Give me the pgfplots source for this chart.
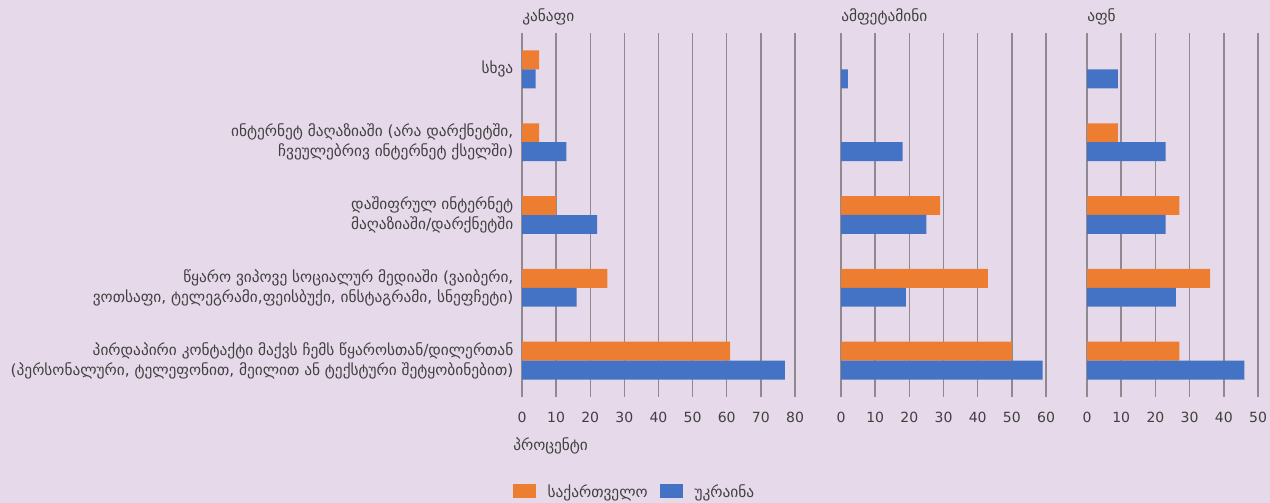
\documentclass[border=0pt]{standalone}
\usepackage{fontspec}
\setmainfont{DejaVu Sans}
\usepackage{pgfplots}
\pgfplotsset{compat=1.18}
\definecolor{bgc}{HTML}{E6DAEA}
\definecolor{geo}{HTML}{ED7D31}
\definecolor{ukr}{HTML}{4472C4}
\definecolor{gridc}{HTML}{8E8A90}
\definecolor{txt}{HTML}{404040}

\newcommand{\geofont}{\fontsize{11.5}{15}\selectfont}

\pgfplotsset{
  panel/.style={
    scale only axis,
    anchor=south west,
    height=273pt,
    xbar, bar width=0.26,
    xmin=0, ymin=-0.5, ymax=4.5,
    axis line style={draw=none},
    major tick length=0pt, tick style={draw=none},
    xmajorgrids, grid style={gridc, line width=1.1pt},
    ytick={0,1,2,3,4}, yticklabels={},
    /pgf/number format/assume math mode=true,
    ticklabel style={font=\fontsize{10.5}{15}\selectfont, text=txt},
    xticklabel style={yshift=-8pt},
  },
  geobar/.style={fill=geo, draw=none, bar shift=0.13},
  ukrbar/.style={fill=ukr, draw=none, bar shift=-0.13},
}

\begin{document}
\begin{tikzpicture}
\fill[bgc] (0,0) rectangle (952.5pt,377.25pt);

% კანაფი
\begin{axis}[panel, at={(391.5pt,79.5pt)}, width=204.75pt,
  xmax=80, xtick={0,10,...,80},
  yticklabels={{პირდაპირი კონტაქტი მაქვს ჩემს წყაროსთან/დილერთან\\(პერსონალური, ტელეფონით, მეილით ან ტექსტური შეტყობინებით)},
    {წყარო ვიპოვე სოციალურ მედიაში (ვაიბერი,\\ვოთსაფი, ტელეგრამი,ფეისბუქი, ინსტაგრამი, სნეფჩეტი)},
    {დაშიფრულ ინტერნეტ\\მაღაზიაში/დარქნეტში},
    {ინტერნეტ მაღაზიაში (არა დარქნეტში,\\ჩვეულებრივ ინტერნეტ ქსელში)},
    {სხვა}},
  yticklabel style={align=right, xshift=-3pt, font=\geofont},
  legend columns=2,
  legend style={at={(0.413,-0.262)}, anchor=center, draw=none, fill=none,
    font=\geofont, text=txt, /tikz/column sep=7pt},
  legend image code/.code={\fill[#1] (0pt,-4.6pt) rectangle (17.25pt,6.6pt);},
]
\addplot[geobar] coordinates {(61,0) (25,1) (10,2) (5,3) (5,4)};
\addplot[ukrbar] coordinates {(77,0) (16,1) (22,2) (13,3) (4,4)};
\legend{საქართველო, უკრაინა}
\end{axis}

% ამფეტამინი
\begin{axis}[panel, at={(630.75pt,79.5pt)}, width=153.75pt,
  xmax=60, xtick={0,10,...,60}]
\addplot[geobar] coordinates {(50,0) (43,1) (29,2)};
\addplot[ukrbar] coordinates {(59,0) (19,1) (25,2) (18,3) (2,4)};
\end{axis}

% აფნ
\begin{axis}[panel, at={(815.25pt,79.5pt)}, width=128.25pt,
  xmax=50, xtick={0,10,...,50}]
\addplot[geobar] coordinates {(27,0) (36,1) (27,2) (9,3)};
\addplot[ukrbar] coordinates {(46,0) (26,1) (23,2) (23,3) (9,4)};
\end{axis}

\begin{scope}[every node/.style={anchor=west, inner sep=0, text=txt, font=\geofont}]
\node at (391.5pt,364.5pt) {კანაფი};
\node at (630.75pt,364.5pt) {ამფეტამინი};
\node at (815.25pt,364.5pt) {აფნ};
\node at (384.75pt,42.5pt) {პროცენტი};
\end{scope}

\pgfresetboundingbox
\path[use as bounding box] (0,0) rectangle (952.5pt,377.25pt);
\end{tikzpicture}
\end{document}
